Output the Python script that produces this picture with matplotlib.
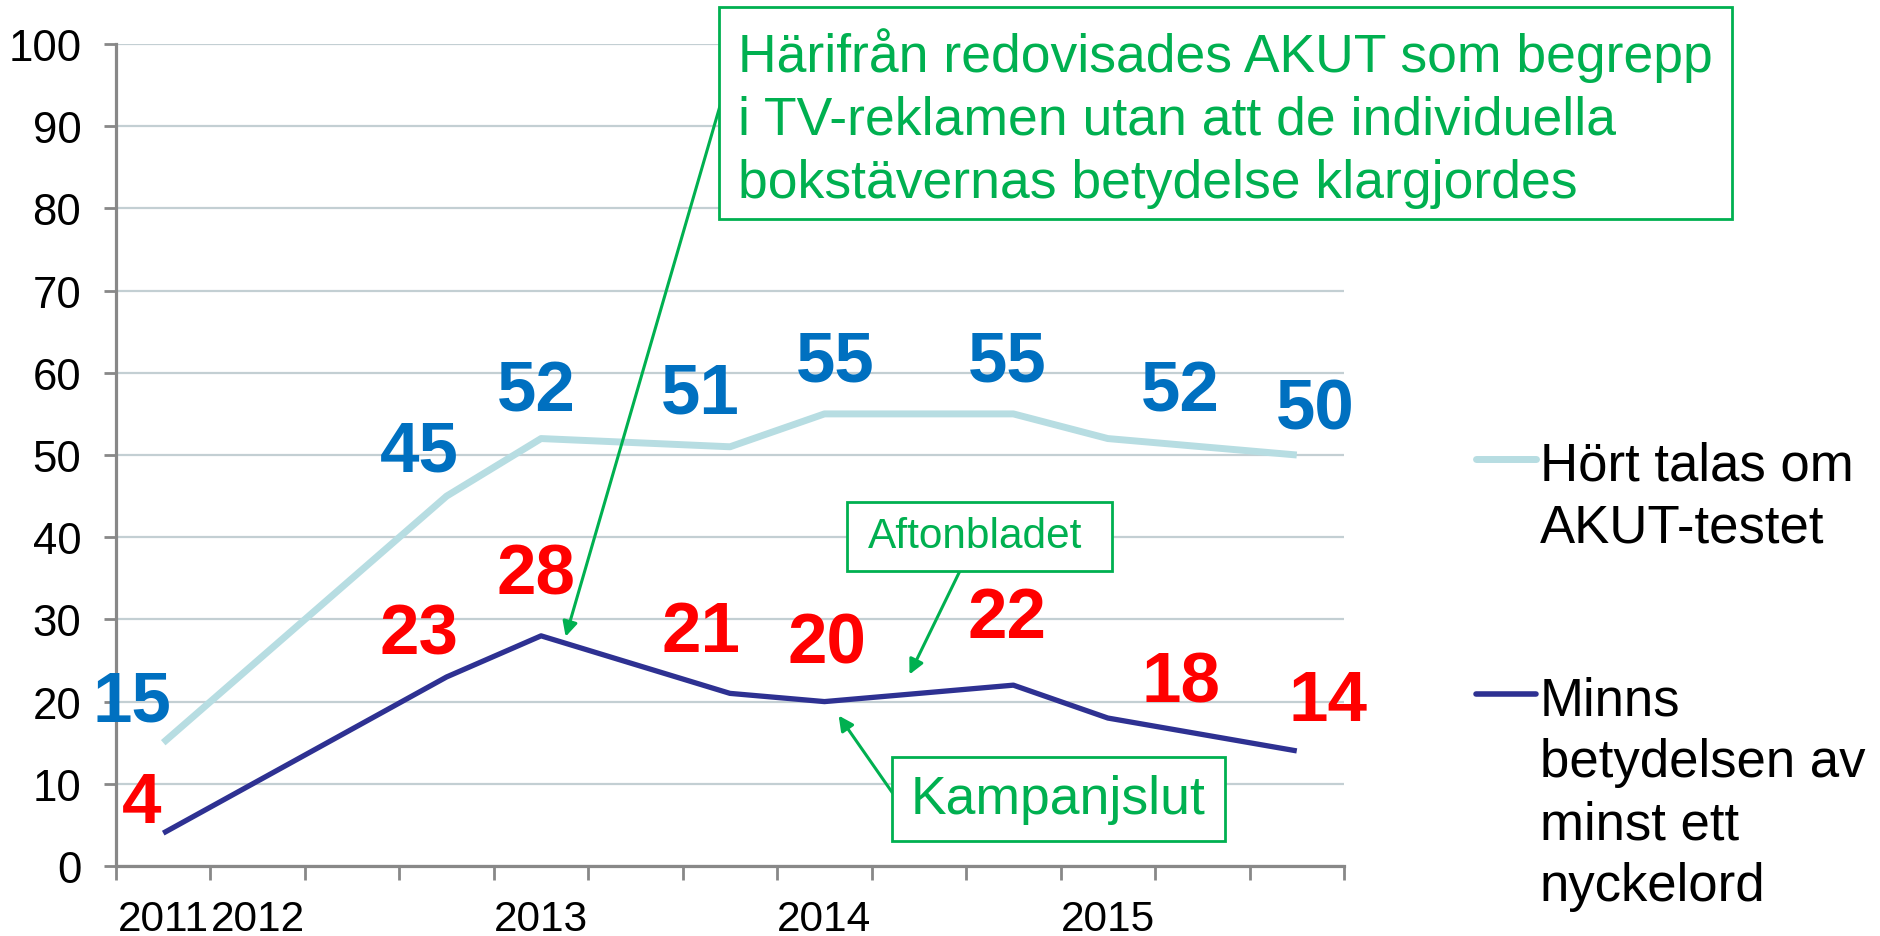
import numpy as np
import matplotlib.pyplot as plt
from matplotlib.lines import Line2D
from matplotlib.patches import Rectangle

plt.rcParams['font.family'] = ['Liberation Sans', 'DejaVu Sans']

# 13 categories on the axis, only some of them labelled
tick_labels = ['2011', '2012', '', '', '2013', '', '', '2014', '', '', '2015', '', '']
# measurements (None = no measurement in that category)
hort = [15, None, None, 45, 52, None, 51, 55, None, 55, 52, None, 50]
minns = [4, None, None, 23, 28, None, 21, 20, None, 22, 18, None, 14]
# label offsets from each point (categories, value units)
hort_lbl = [(-0.33, 4.9), None, None, (-0.29, 5.3), (-0.05, 5.6), None, (-0.31, 6.3), (0.11, 6.3), None, (-0.07, 6.3), (0.77, 5.6), None, (0.2, 5.4)]
minns_lbl = [(-0.23, 3.6), None, None, (-0.29, 5.1), (-0.05, 7.4), None, (-0.31, 7.4), (0.03, 6.9), None, (-0.07, 8.1), (0.77, 4.2), None, (0.33, 5.9)]

blue_line = '#B7DDE2'
dark_line = '#2E3192'
green = '#00B050'

fig = plt.figure(figsize=(18.8, 9.37), dpi=100)
ax = fig.add_axes([116 / 1880, 1 - 867 / 937, (1344 - 116) / 1880, (867 - 45) / 937])

x = np.arange(len(tick_labels))
for vals, col, lw in [(hort, blue_line, 5.0), (minns, dark_line, 3.8)]:
    xs = [xi for xi, v in zip(x, vals) if v is not None]
    ys = [v for v in vals if v is not None]
    ax.plot(xs, ys, color=col, lw=lw, solid_capstyle='butt', zorder=3)

for vals, offs, col in [(hort, hort_lbl, '#0070C0'), (minns, minns_lbl, '#FF0000')]:
    for xi, v, o in zip(x, vals, offs):
        if v is None:
            continue
        ax.text(xi + o[0], v + o[1], str(v), color=col, fontsize=51, fontweight='bold',
                ha='center', va='center', zorder=4)

ax.set_xlim(-0.5, len(tick_labels) - 0.5)
ax.set_ylim(0, 100)
ax.set_yticks(range(0, 101, 10))
ax.set_xticks(np.arange(-0.5, len(tick_labels)), minor=False)
ax.set_xticklabels([])
ax.set_xticks(x, minor=True)
ax.set_xticklabels(tick_labels, minor=True)
ax.tick_params(axis='x', which='major', length=10, width=2, color='#888888', direction='out')
ax.tick_params(axis='x', which='minor', length=0, labelsize=30.5, pad=24)
ax.tick_params(axis='y', length=9, width=2, color='#888888', labelsize=31.5, pad=16)
ax.grid(axis='y', color='#C3CFD3', lw=1.6, zorder=0)
for s in ['top', 'right']:
    ax.spines[s].set_visible(False)
for s in ['left', 'bottom']:
    ax.spines[s].set_color('#888888')
    ax.spines[s].set_linewidth(2.3)
ax.set_axisbelow(True)

# annotation arrows
arrow = dict(arrowstyle='-|>', color=green, lw=2.2, mutation_scale=22, shrinkA=0, shrinkB=0)
ax.annotate('', xy=(4.26, 27.9), xytext=(5.9, 92.7), arrowprops=arrow, zorder=5)
ax.annotate('', xy=(7.9, 23.3), xytext=(8.43, 35.8), arrowprops=arrow, zorder=5)
ax.annotate('', xy=(7.15, 18.3), xytext=(7.72, 8.9), arrowprops=arrow, zorder=5)

W, H = 1880, 937


def box(x0, y0, x1, y1):
    fig.patches.append(Rectangle((x0 / W, 1 - y1 / H), (x1 - x0) / W, (y1 - y0) / H,
                                 transform=fig.transFigure, facecolor='white',
                                 edgecolor=green, lw=2, zorder=6))


def lines(x0, ys, texts, **kw):
    for y, t in zip(ys, texts):
        fig.text(x0 / W, 1 - y / H, t, va='center_baseline', ha='left', zorder=7, **kw)


box(719, 8, 1732, 220)
lines(738, [50, 115, 179],
      ['Härifrån redovisades AKUT som begrepp', 'i TV-reklamen utan att de individuella',
       'bokstävernas betydelse klargjordes'], color=green, fontsize=38.5)
box(847, 503, 1112, 572)
fig.text(975 / W, 1 - 537 / H, 'Aftonbladet', color=green, fontsize=30.5, ha='center', va='center', zorder=7)
box(892, 758, 1225, 842)
fig.text(1058 / W, 1 - 800 / H, 'Kampanjslut', color=green, fontsize=38.5, ha='center', va='center', zorder=7)

# legend
fig.add_artist(Line2D([1476 / W, 1536 / W], [1 - 460 / H] * 2, color=blue_line, lw=5, solid_capstyle='round'))
lines(1540, [461, 523], ['Hört talas om', 'AKUT-testet'], fontsize=38)
fig.add_artist(Line2D([1476 / W, 1536 / W], [1 - 695 / H] * 2, color=dark_line, lw=4, solid_capstyle='round'))
lines(1540, [696, 758, 820, 882], ['Minns', 'betydelsen av', 'minst ett', 'nyckelord'], fontsize=38)

fig.savefig('out.png', dpi=100)
